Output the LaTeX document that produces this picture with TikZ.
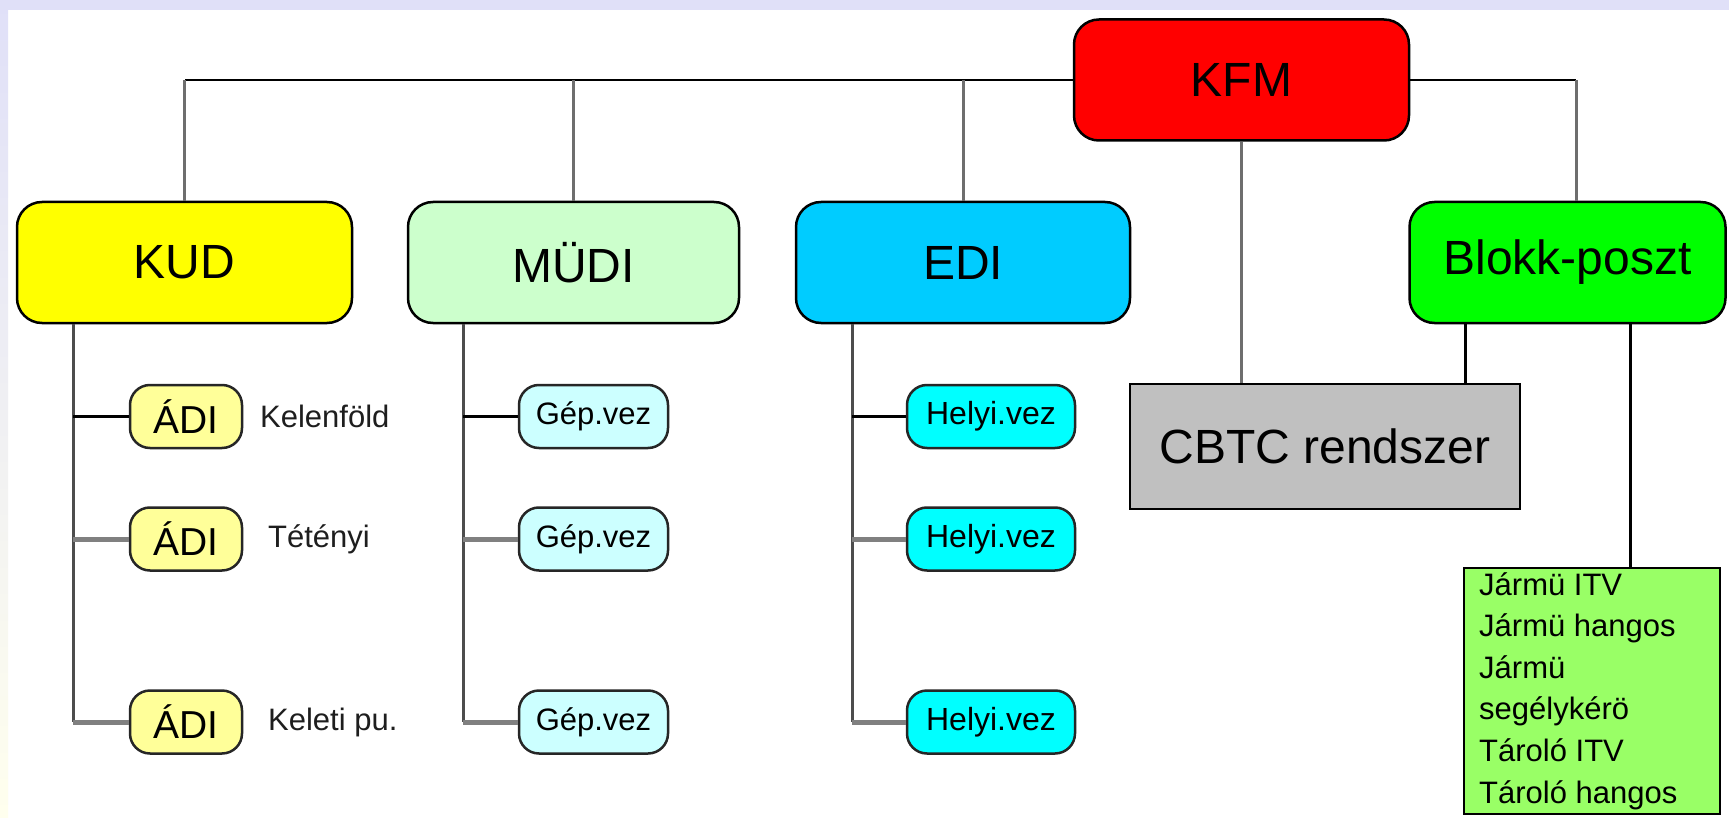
\documentclass[tikz,border=0pt]{standalone}
\usepackage{fontspec}
\setmainfont{Liberation Sans}
\usetikzlibrary{calc}
\definecolor{bandlav}{RGB}{224,224,248}
\definecolor{bandcream}{RGB}{255,255,238}
\definecolor{kudc}{RGB}{255,255,0}
\definecolor{mudic}{RGB}{204,255,204}
\definecolor{edic}{RGB}{0,204,255}
\definecolor{kfmc}{RGB}{255,0,0}
\definecolor{blokkc}{RGB}{0,255,0}
\definecolor{cbtcc}{RGB}{192,192,192}
\definecolor{listc}{RGB}{153,255,102}
\definecolor{adic}{RGB}{255,255,153}
\definecolor{gepc}{RGB}{204,255,255}
\definecolor{helyic}{RGB}{0,255,255}
\definecolor{trunkc}{RGB}{77,77,77}
\definecolor{stubc}{RGB}{128,128,128}
\definecolor{dropc}{RGB}{110,110,110}
\definecolor{labc}{RGB}{30,30,30}
\tikzset{
  bigbox/.style={draw=black, line width=2.5pt, rounded corners=25pt, inner sep=0pt,
    minimum height=121pt, font=\fontsize{48}{56}\selectfont},
  smallbox/.style={draw=black!85, line width=2.5pt, rounded corners=20pt, inner sep=0pt,
    minimum height=63pt},
  toplink/.style={draw=black, line width=2.5pt},
  droplink/.style={draw=dropc, line width=3pt},
  trunk/.style={draw=trunkc, line width=3pt},
  stubfirst/.style={draw=black, line width=3pt},
  stubother/.style={draw=stubc, line width=5pt},
  sidelabel/.style={anchor=west, inner sep=0pt, text=labc, font=\fontsize{31}{37}\selectfont},
}
\begin{document}
\begin{tikzpicture}[x=1pt,y=-1pt]
\useasboundingbox (0,0) rectangle (1729,818);
\fill[white] (0,0) rectangle (1729,818);
\shade[top color=bandlav, bottom color=bandcream] (0,0) rectangle (8,818);
\fill[bandlav] (0,0) rectangle (1729,10);

% top level
\node[bigbox, fill=kfmc, minimum width=335pt] (kfm) at (1241.5,80) {KFM};
\node[bigbox, fill=kudc, minimum width=335pt] (kud) at (184.5,262.5) {KUD};
\node[bigbox, fill=mudic, minimum width=331pt] (mudi) at (573.5,262.5) {MÜDI};
\node[bigbox, fill=edic, minimum width=334pt] (edi) at (963,262.5) {EDI};
\node[bigbox, fill=blokkc, minimum width=316pt] (blokk) at (1567.5,262.5) {Blokk-poszt};
\node[draw=black, line width=2.5pt, fill=cbtcc, inner sep=0pt, minimum width=390pt,
      minimum height=125pt, font=\fontsize{48}{56}\selectfont] (cbtc) at (1325,446.5) {CBTC rendszer};
\node[draw=black, line width=2.5pt, fill=listc, inner sep=0pt, minimum width=256pt,
      minimum height=246pt] (list) at (1592,691) {};
\node[anchor=north west, align=left, inner sep=0pt, font=\fontsize{31}{41.6}\selectfont]
      (listtxt) at (1479,572) {Jármü ITV\\Jármü hangos\\Jármü\\segélykérö\\Tároló ITV\\Tároló hangos};

% second level small boxes
\foreach \i/\yy in {1/416.5,2/539,3/722}{
  \node[smallbox, fill=adic, minimum width=112pt, font=\fontsize{39}{46}\selectfont] (adi\i) at (186,\yy) {ÁDI};
  \node[smallbox, fill=gepc, minimum width=149pt, font=\fontsize{31}{37}\selectfont] (gep\i) at (593.5,\yy) {Gép.vez};
  \node[smallbox, fill=helyic, minimum width=168pt, font=\fontsize{32}{38}\selectfont] (helyi\i) at (991,\yy) {Helyi.vez};
}
\node[sidelabel] (lab1) at (260,416.5) {Kelenföld};
\node[sidelabel] (lab2) at (268,539) {Tétényi};
\node[sidelabel] (lab3) at (268,722) {Keleti pu.};

% attachment coordinates
\coordinate (blokktop) at ([xshift=8.5pt]blokk.north);
\coordinate (blokkbl) at ([xshift=-102.5pt]blokk.south);
\coordinate (blokkbr) at ([xshift=62.5pt]blokk.south);

% top links
\draw[toplink] (kfm.west) -- (kfm.west -| kud.north);
\draw[toplink] (kfm.east) -- (kfm.east -| blokktop);
\draw[droplink] (kfm.west -| kud.north) -- (kud.north);
\draw[droplink] (kfm.west -| mudi.north) -- (mudi.north);
\draw[droplink] (kfm.west -| edi.north) -- (edi.north);
\draw[droplink] (kfm.east -| blokktop) -- (blokktop);
\draw[droplink] (kfm.south) -- (kfm.south |- cbtc.north);
\draw[stubfirst] (blokkbl) -- (blokkbl |- cbtc.north);
\draw[stubfirst] (blokkbr) -- (blokkbr |- list.north);

% trunks
\coordinate (kudtr) at ([xshift=-111.5pt]kud.south);
\coordinate (muditr) at ([xshift=-110.5pt]mudi.south);
\coordinate (editr) at ([xshift=-111pt]edi.south);
\draw[trunk] (kudtr) -- (kudtr |- adi3.west);
\draw[trunk] (muditr) -- (muditr |- gep3.west);
\draw[trunk] (editr) -- (editr |- helyi3.west);
\draw[stubfirst] (kudtr |- adi1.west) -- (adi1.west);
\draw[stubfirst] (muditr |- gep1.west) -- (gep1.west);
\draw[stubfirst] (editr |- helyi1.west) -- (helyi1.west);
\foreach \i in {2,3}{
  \draw[stubother] (kudtr |- adi\i.west) -- (adi\i.west);
  \draw[stubother] (muditr |- gep\i.west) -- (gep\i.west);
  \draw[stubother] (editr |- helyi\i.west) -- (helyi\i.west);
}
\end{tikzpicture}
\end{document}
